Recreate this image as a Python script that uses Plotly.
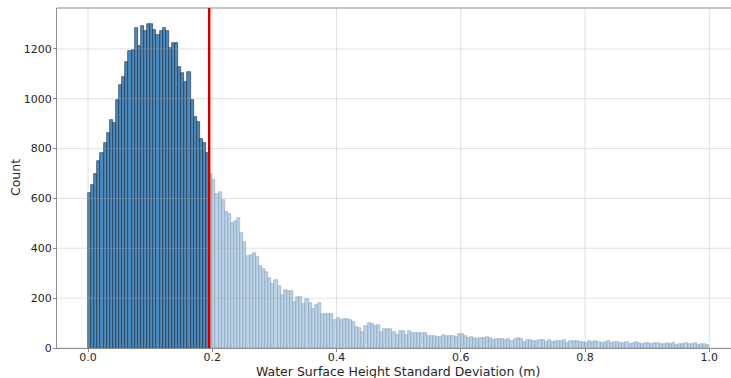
import numpy as np
import plotly.graph_objects as go

# ---- data ----
bin_start = 0.0
bin_width = 0.005
threshold = 0.195
counts = [
    621, 655, 698, 752, 783, 821, 862, 914, 902, 995,
    1055, 1089, 1149, 1192, 1196, 1285, 1210, 1290, 1272, 1299,
    1298, 1275, 1256, 1270, 1284, 1272, 1205, 1222, 1222, 1128,
    1105, 1067, 1106, 993, 925, 907, 840, 821, 781,
    700, 674, 619, 627, 594, 547, 536, 500, 508, 520,
    460, 427, 368, 373, 382, 365, 328, 316, 303, 282,
    256, 273, 248, 213, 233, 230, 227, 184, 205, 205,
    177, 196, 179, 156, 173, 180, 136, 136, 136, 138,
    112, 122, 112, 115, 118, 112, 106, 86, 82, 66,
    88, 99, 97, 88, 92, 66, 76, 76, 78, 66,
    52, 68, 68, 53, 68, 62, 62, 61, 62, 59,
    50, 47, 48, 46, 46, 52, 48, 48, 50, 46,
    58, 55, 48, 42, 44, 40, 38, 40, 39, 44,
    42, 32, 36, 35, 37, 34, 36, 30, 38, 40,
    36, 26, 32, 34, 30, 28, 31, 33, 24, 34,
    26, 28, 27, 29, 31, 20, 30, 27, 28, 26,
    25, 22, 28, 24, 30, 26, 21, 24, 27, 19,
    23, 25, 20, 22, 24, 18, 21, 23, 19, 17,
    22, 20, 16, 19, 21, 18, 15, 20, 17, 19,
    14, 18, 16, 20, 15, 17, 19, 14, 16, 18,
    13,
]
x_ticks = [0.0, 0.2, 0.4, 0.6, 0.8, 1.0]
x_tick_labels = ["0.0", "0.2", "0.4", "0.6", "0.8", "1.0"]
y_ticks = [0, 200, 400, 600, 800, 1000, 1200]
y_tick_labels = ["0", "200", "400", "600", "800", "1000", "1200"]
x_title = "Water Surface Height Standard Deviation (m)"
y_title = "Count"

# ---- build ----
counts = np.array(counts)
starts = bin_start + bin_width * np.arange(len(counts))
centers = starts + bin_width / 2
below = starts < threshold - 1e-9

fig = go.Figure()
fig.add_trace(go.Bar(
    x=centers[below], y=counts[below], width=bin_width,
    marker=dict(color="rgb(76,138,188)", line=dict(color="rgba(25,40,60,0.85)", width=0.7)),
    showlegend=False,
))
fig.add_trace(go.Bar(
    x=centers[~below], y=counts[~below], width=bin_width,
    marker=dict(color="rgb(188,210,229)", line=dict(color="rgba(120,150,180,0.8)", width=0.6)),
    showlegend=False,
))

grid_col = "rgba(170,170,170,0.35)"
for yv in y_ticks:
    fig.add_shape(type="line", xref="paper", yref="y", x0=0, x1=1, y0=yv, y1=yv,
                  line=dict(color=grid_col, width=1), layer="above")
for xv in x_ticks:
    fig.add_shape(type="line", xref="x", yref="paper", x0=xv, x1=xv, y0=0, y1=1,
                  line=dict(color=grid_col, width=1), layer="above")

# top frame line
fig.add_shape(type="line", xref="paper", yref="paper", x0=0, x1=1, y0=1, y1=1,
              line=dict(color="#8c8c8c", width=1), layer="above")

fig.add_shape(type="line", xref="x", yref="paper", x0=threshold, x1=threshold, y0=0, y1=1,
              line=dict(color="rgb(205,0,0)", width=2.5), layer="above")

font_col = "#262626"
fig.update_layout(
    width=731, height=378,
    margin=dict(l=57, r=0, t=8, b=30),
    plot_bgcolor="white", paper_bgcolor="white",
    bargap=0,
    font=dict(family="DejaVu Sans", size=11, color=font_col),
)
fig.update_xaxes(
    range=[-0.05, 1.035], tickvals=x_ticks, ticktext=x_tick_labels,
    showgrid=False, zeroline=False, automargin=False,
    showline=True, linecolor="#8c8c8c", linewidth=1, mirror=False,
    ticks="outside", ticklen=3, tickcolor="#8c8c8c",
    ticklabelstandoff=-4,
)
fig.update_yaxes(
    range=[0, 1364], tickvals=y_ticks, ticktext=y_tick_labels,
    showgrid=False, zeroline=False, automargin=False,
    showline=True, linecolor="#8c8c8c", linewidth=1, mirror=False,
    ticks="outside", ticklen=3, tickcolor="#8c8c8c",
    ticklabelstandoff=-1,
)
fig.add_annotation(text=x_title, xref="paper", yref="paper", x=0.506, y=0,
                   xanchor="center", yanchor="top", yshift=-14, showarrow=False,
                   font=dict(size=12.5, color=font_col))
fig.add_annotation(text=y_title, xref="paper", yref="paper", x=-0.0623, y=0.5,
                   xanchor="center", yanchor="middle", textangle=-90, showarrow=False,
                   font=dict(size=12.5, color=font_col))

fig.write_html("out.html", config={"displayModeBar": False},
               post_script="document.body.style.margin='0';document.body.style.overflow='hidden';")
